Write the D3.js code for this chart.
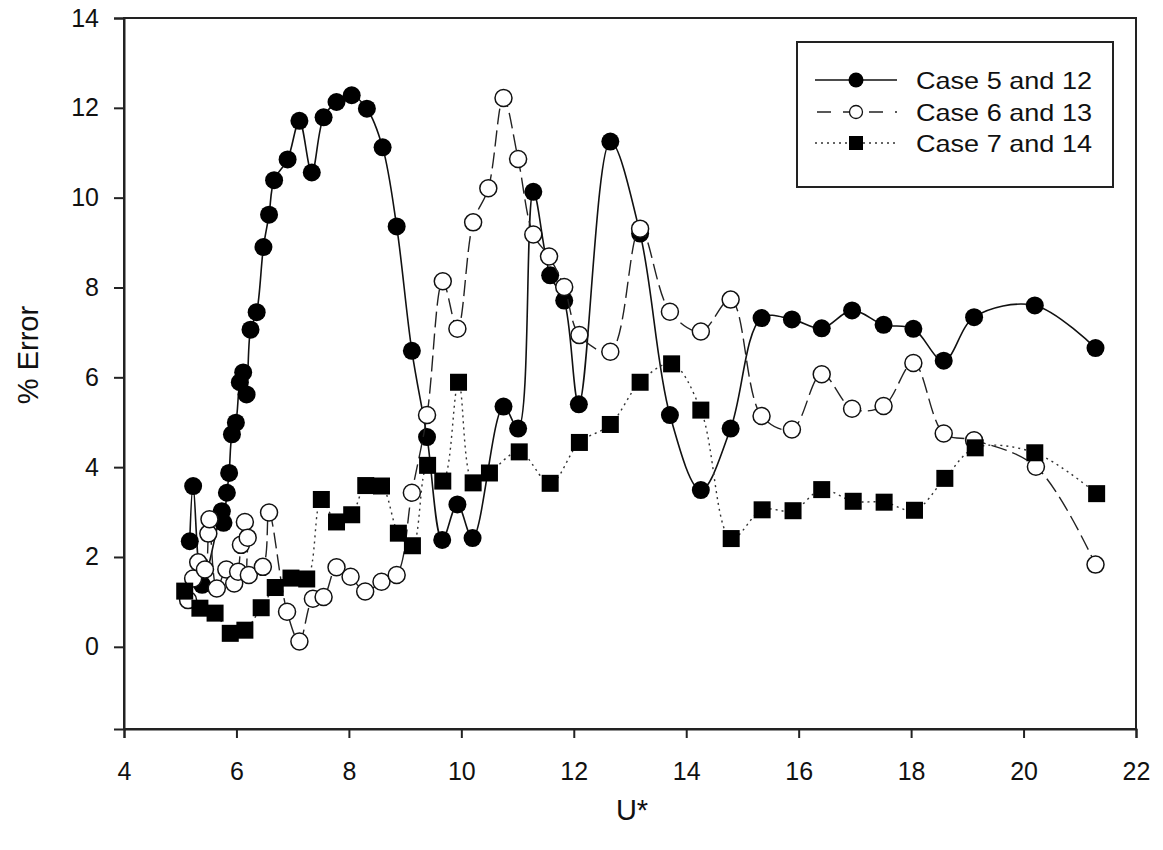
<!DOCTYPE html>
<html>
<head>
<meta charset="utf-8">
<script src="https://cdn.jsdelivr.net/npm/d3@7"></script>
<style>
  html, body { margin: 0; padding: 0; background: #fff; }
  svg { display: block; }
  text { font-family: "Liberation Sans", Arial, sans-serif; fill: #111; }
</style>
</head>
<body>
<svg id="chart" width="1163" height="850"></svg>
<script>
// U* vs % error for three case pairs
const case5U = [5.17, 5.23, 5.39, 5.74, 5.77, 5.83, 5.87, 5.92, 5.99, 6.06, 6.12, 6.18, 6.25, 6.36,
  6.48, 6.58, 6.67, 6.91, 7.12, 7.34, 7.55, 7.78, 8.05, 8.32, 8.60, 8.85, 9.12, 9.39,
  9.66, 9.93, 10.20, 10.75, 11.01, 11.28, 11.58, 11.83, 12.09, 12.65, 13.18, 13.71,
  14.26, 14.79, 15.34, 15.88, 16.41, 16.95, 17.51, 18.04, 18.58, 19.12, 20.20, 21.28];
const case5Err = [2.35, 3.58, 1.38, 3.02, 2.76, 3.43, 3.87, 4.73, 4.99, 5.89, 6.11, 5.62, 7.06, 7.45,
  8.90, 9.62, 10.39, 10.85, 11.71, 10.56, 11.79, 12.13, 12.28, 11.98, 11.12, 9.36, 6.59, 4.67,
  2.38, 3.17, 2.42, 5.35, 4.86, 10.13, 8.27, 7.71, 5.40, 11.25, 9.20, 5.16,
  3.49, 4.86, 7.32, 7.29, 7.09, 7.49, 7.17, 7.08, 6.37, 7.34, 7.60, 6.65];

const case6U = [5.14, 5.23, 5.32, 5.44, 5.50, 5.52, 5.65, 5.82, 5.96, 6.03, 6.08, 6.15, 6.20, 6.22,
  6.47, 6.58, 6.90, 7.12, 7.36, 7.55, 7.78, 8.03, 8.29, 8.58, 8.85, 9.12, 9.39, 9.67,
  9.93, 10.21, 10.48, 10.75, 11.01, 11.28, 11.56, 11.83, 12.10, 12.65, 13.18, 13.71,
  14.26, 14.79, 15.34, 15.88, 16.41, 16.95, 17.51, 18.04, 18.58, 19.12, 20.22, 21.28];
const case6Err = [1.04, 1.52, 1.88, 1.72, 2.52, 2.84, 1.30, 1.72, 1.41, 1.67, 2.27, 2.78, 2.43, 1.60,
  1.78, 2.99, 0.78, 0.12, 1.07, 1.11, 1.77, 1.56, 1.23, 1.45, 1.60, 3.43, 5.16, 8.14,
  7.08, 9.45, 10.21, 12.22, 10.86, 9.18, 8.69, 8.01, 6.94, 6.57, 9.31, 7.46,
  7.02, 7.73, 5.14, 4.84, 6.07, 5.30, 5.36, 6.32, 4.75, 4.60, 4.01, 1.83];

const case7U = [5.08, 5.35, 5.62, 5.89, 6.15, 6.44, 6.69, 6.97, 7.25, 7.51, 7.78, 8.05, 8.30,
  8.58, 8.88, 9.13, 9.40, 9.67, 9.95, 10.21, 10.50, 11.03, 11.58, 12.10, 12.65, 13.18,
  13.74, 14.26, 14.80, 15.35, 15.90, 16.41, 16.97, 17.52, 18.06, 18.60, 19.14, 20.20, 21.30];
const case7Err = [1.24, 0.86, 0.75, 0.30, 0.37, 0.87, 1.32, 1.53, 1.51, 3.28, 2.78, 2.94, 3.59,
  3.58, 2.53, 2.25, 4.04, 3.69, 5.89, 3.65, 3.87, 4.34, 3.64, 4.55, 4.95, 5.89,
  6.30, 5.27, 2.41, 3.05, 3.03, 3.50, 3.24, 3.22, 3.04, 3.75, 4.43, 4.32, 3.41];

const seriesNames = ["Case 5 and 12", "Case 6 and 13", "Case 7 and 14"];
const xTickValues = [4, 6, 8, 10, 12, 14, 16, 18, 20, 22];
const yTickValues = [0, 2, 4, 6, 8, 10, 12, 14];
const xTitle = "U*";
const yTitle = "% Error";

const svg = d3.select("#chart");
const plot = { left: 124, right: 1136, top: 18, bottom: 729 };

const x = d3.scaleLinear().domain([4, 22]).range([plot.left, plot.right]);
const y = d3.scaleLinear().domain([-1.83, 14]).range([plot.bottom, plot.top]);

// frame
svg.append("rect")
  .attr("x", plot.left).attr("y", plot.top)
  .attr("width", plot.right - plot.left).attr("height", plot.bottom - plot.top)
  .attr("fill", "none").attr("stroke", "#222").attr("stroke-width", 2);

// axes
const xAxis = d3.axisBottom(x).tickValues(xTickValues).tickSize(9).tickPadding(24).tickFormat(d3.format("d"));
const yAxis = d3.axisLeft(y).tickValues(yTickValues).tickSize(10).tickPadding(15).tickFormat(d3.format("d"));

const gx = svg.append("g").attr("transform", `translate(0,${plot.bottom})`).call(xAxis);
const gy = svg.append("g").attr("transform", `translate(${plot.left},0)`).call(yAxis);
[gx, gy].forEach(g => {
  g.select(".domain").attr("stroke", "#222").attr("stroke-width", 2);
  g.selectAll(".tick line").attr("stroke", "#222").attr("stroke-width", 2);
  g.selectAll(".tick text").attr("font-size", 25).attr("fill", "#111")
    .style("font-family", '"Liberation Sans", Arial, sans-serif');
});

// axis titles
svg.append("text").attr("x", 632).attr("y", 820).attr("text-anchor", "middle")
  .attr("font-size", 29).text(xTitle);
svg.append("text").attr("transform", "translate(38,355) rotate(-90)").attr("text-anchor", "middle")
  .attr("font-size", 29).text(yTitle);

const line = d3.line().x(d => x(d[0])).y(d => y(d[1])).curve(d3.curveCatmullRom.alpha(0.5));

const s5 = case5U.map((u, i) => [u, case5Err[i]]);
const s6 = case6U.map((u, i) => [u, case6Err[i]]);
const s7 = case7U.map((u, i) => [u, case7Err[i]]);

const styles = [
  { dash: null, width: 1.6, color: "#111" },
  { dash: "16,6", width: 1.4, color: "#222" },
  { dash: "2,4", width: 1.4, color: "#333" }
];

function drawMarker(g, kind, cx, cy) {
  if (kind === 0) {
    g.append("circle").attr("cx", cx).attr("cy", cy).attr("r", 9).attr("fill", "#000");
  } else if (kind === 1) {
    g.append("circle").attr("cx", cx).attr("cy", cy).attr("r", 8.5)
      .attr("fill", "#fff").attr("stroke", "#111").attr("stroke-width", 1.5);
  } else {
    g.append("rect").attr("x", cx - 8.5).attr("y", cy - 8.5).attr("width", 17).attr("height", 17)
      .attr("fill", "#000");
  }
}

[s5, s6, s7].forEach((data, k) => {
  const g = svg.append("g");
  g.append("path").datum(data).attr("d", line)
    .attr("fill", "none").attr("stroke", styles[k].color)
    .attr("stroke-width", styles[k].width)
    .attr("stroke-dasharray", styles[k].dash);
  data.forEach(d => drawMarker(g, k, x(d[0]), y(d[1])));
});

// legend
const legend = svg.append("g");
legend.append("rect").attr("x", 797).attr("y", 42).attr("width", 316).attr("height", 145)
  .attr("fill", "#fff").attr("stroke", "#222").attr("stroke-width", 2);
const rowY = [80, 112, 143];
seriesNames.forEach((name, k) => {
  legend.append("line").attr("x1", 815).attr("x2", 897).attr("y1", rowY[k]).attr("y2", rowY[k])
    .attr("stroke", styles[k].color).attr("stroke-width", styles[k].width)
    .attr("stroke-dasharray", k === 1 ? "14,12" : styles[k].dash)
    .attr("stroke-dashoffset", k === 1 ? -2 : 0);
  const mg = legend.append("g");
  if (k === 0) mg.append("circle").attr("cx", 856).attr("cy", rowY[k]).attr("r", 7.5).attr("fill", "#000");
  if (k === 1) mg.append("circle").attr("cx", 856).attr("cy", rowY[k]).attr("r", 6.5)
    .attr("fill", "#fff").attr("stroke", "#111").attr("stroke-width", 1.3);
  if (k === 2) mg.append("rect").attr("x", 849).attr("y", rowY[k] - 7).attr("width", 14).attr("height", 14).attr("fill", "#000");
  legend.append("text").attr("x", 916).attr("y", rowY[k] + 8.5).attr("font-size", 24)
    .attr("textLength", 176).attr("lengthAdjust", "spacingAndGlyphs")
    .text(name);
});
</script>
</body>
</html>
